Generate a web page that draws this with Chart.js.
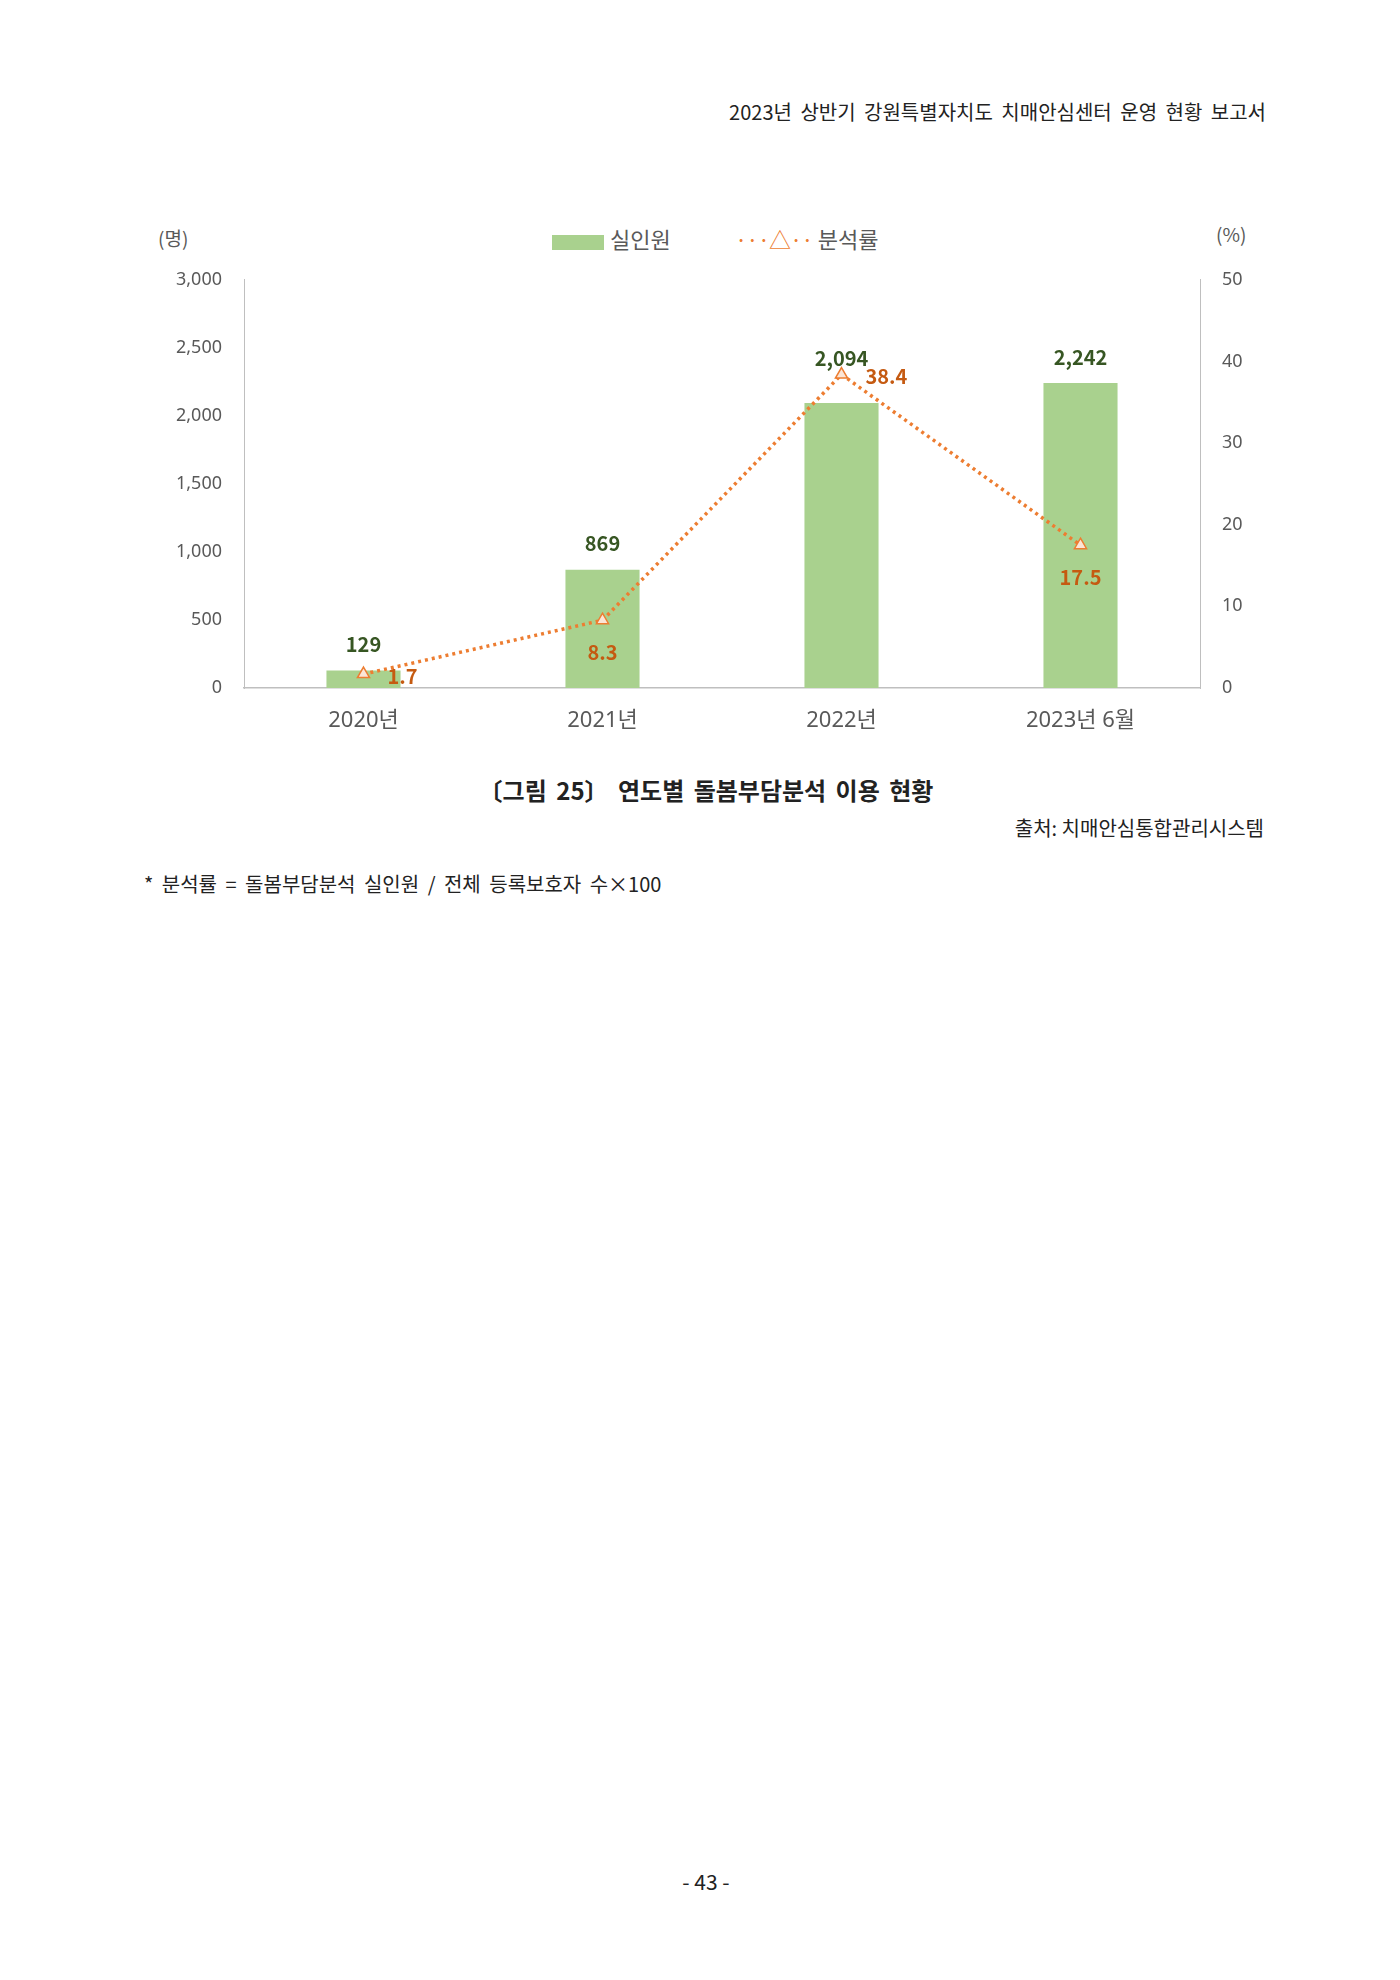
<!DOCTYPE html>
<html><head><meta charset="utf-8">
<script src="https://cdn.jsdelivr.net/npm/chart.js@4"></script>
<style>
body{margin:0;width:1400px;height:1980px;background:#fff;position:relative;font-family:"Noto Sans CJK KR","Noto Sans",sans-serif;color:#222}
.t{position:absolute;white-space:nowrap}
#wrap{position:absolute;left:130px;top:255px;width:1160px;height:501px}
</style></head><body>
<div class="t" style="right:134px;top:97px;font-size:20px;word-spacing:4px">2023년 상반기 강원특별자치도 치매안심센터 운영 현황 보고서</div>
<div class="t" style="left:158px;top:224px;font-size:19px;color:#595959">(명)</div>
<div class="t" style="left:1216px;top:220px;font-size:19px;color:#595959">(%)</div>
<div class="t" style="left:552px;top:222px;font-size:22px;color:#595959"><span style="display:inline-block;width:52px;height:15px;background:#a9d18e;vertical-align:middle;margin-right:6px"></span>실인원</div>
<div class="t" style="left:735px;top:222px;font-size:22px;color:#595959"><span style="color:#ed7d31;letter-spacing:-1px">···△··</span> 분석률</div>
<div id="wrap"><canvas id="c"></canvas></div>
<div class="t" style="left:0;width:1412px;text-align:center;top:772px;font-size:24px;font-weight:bold;word-spacing:4px">〔그림 25〕 연도별 돌봄부담분석 이용 현황</div>
<div class="t" style="right:136px;top:813px;font-size:20px">출처: 치매안심통합관리시스템</div>
<div class="t" style="left:144px;top:869px;font-size:20px;word-spacing:4px">* 분석률 = 돌봄부담분석 실인원 / 전체 등록보호자 수×100</div>
<div class="t" style="left:0;width:1412px;text-align:center;top:1866px;font-size:21px">- 43 -</div>
<script>
const categories=["2020년","2021년","2022년","2023년 6월"];
const persons=[129,869,2094,2242];
const rates=[1.7,8.3,38.4,17.5];
const leftTicks=[0,500,1000,1500,2000,2500,3000];
const rateLabelPos=["right","below","right","below"];
const labels={id:"labels",afterDatasetsDraw(ch){
 const c=ch.ctx;c.save();c.font="bold 20px 'Noto Sans CJK KR','Noto Sans',sans-serif";c.textBaseline="middle";
 const pts=ch.getDatasetMeta(1).data;
 ch.getDatasetMeta(0).data.forEach((b,i)=>{c.textAlign="center";c.fillStyle="#375623";
  const y=Math.min(b.y,pts[i].y+10)-26;c.fillText(persons[i].toLocaleString("en-US"),b.x,y);});
 pts.forEach((p,i)=>{c.fillStyle="#c55a11";
  if(rateLabelPos[i]==="right"){c.textAlign="left";c.fillText(rates[i].toFixed(1),p.x+24,p.y+2);}
  else{c.textAlign="center";c.fillText(rates[i].toFixed(1),p.x,p.y+32);} });
 c.restore();}};
const tf={size:18,family:"'Noto Sans','Noto Sans CJK KR',sans-serif"};
new Chart(document.getElementById("c"),{
 data:{labels:categories,datasets:[
  {type:"bar",data:persons,backgroundColor:"#a9d18e",yAxisID:"y",barPercentage:0.31,categoryPercentage:1,order:2},
  {type:"line",data:rates,yAxisID:"y1",borderColor:"#ed7d31",borderWidth:3.5,borderDash:[3,4],pointStyle:"triangle",pointRadius:7,pointBackgroundColor:"#fbe5d6",pointBorderColor:"#ed7d31",pointBorderWidth:1.5,order:1}]},
 options:{responsive:true,maintainAspectRatio:false,animation:false,layout:{padding:{top:10}},
  plugins:{legend:{display:false},tooltip:{enabled:false}},
  scales:{
   x:{grid:{display:false},border:{color:"#bfbfbf",width:1.5},ticks:{color:"#595959",font:{size:22,family:tf.family},padding:12},afterFit(a){a.height=68;}},
   y:{min:0,max:3000,afterBuildTicks(a){a.ticks=leftTicks.map(v=>({value:v}));},grid:{display:false},border:{color:"#bfbfbf"},
      ticks:{color:"#595959",font:tf,padding:14,callback:v=>v.toLocaleString("en-US")},afterFit(a){a.width=114;}},
   y1:{position:"right",min:0,max:50,grid:{display:false},border:{color:"#bfbfbf"},ticks:{stepSize:10,color:"#595959",font:tf,padding:14},afterFit(a){a.width=90;}}
  }},
 plugins:[labels]});
</script></body></html>
